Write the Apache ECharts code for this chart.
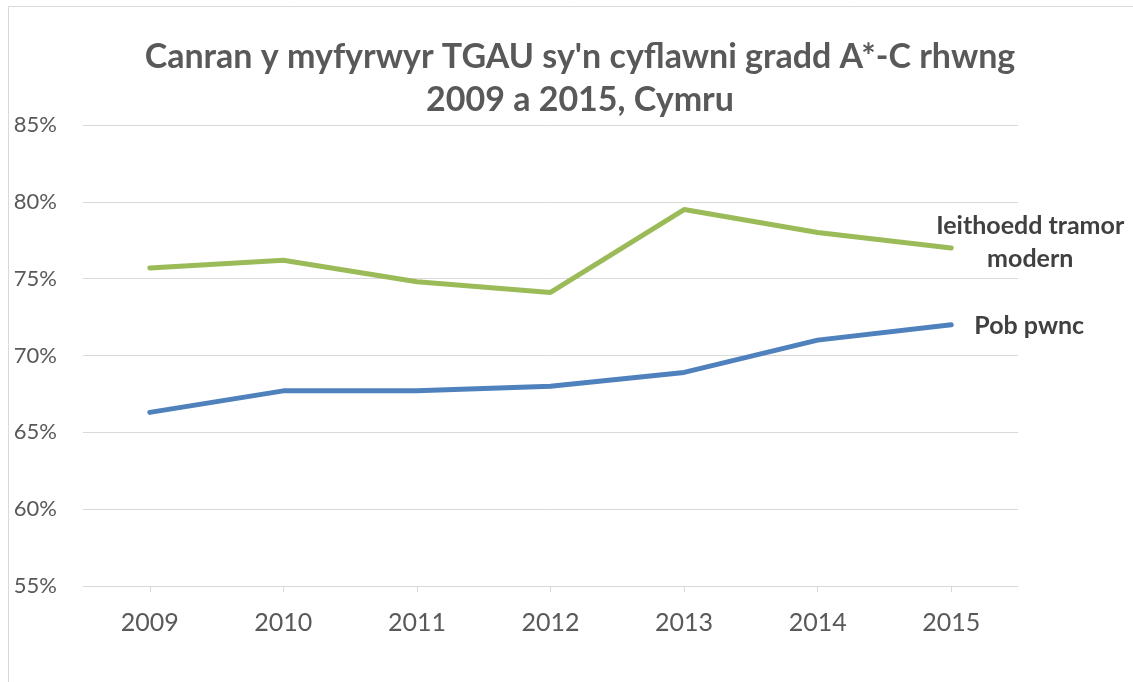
<!DOCTYPE html>
<html>
<head>
<meta charset="utf-8">
<script src="https://cdn.jsdelivr.net/npm/echarts@6/dist/echarts.min.js"></script>
<style>
  html, body { margin: 0; padding: 0; background: #fff; }
  #chart { width: 1133px; height: 682px; }
</style>
</head>
<body>
<div id="chart"></div>
<script>
// blynyddoedd a chanrannau (darllen o'r llun)
const years = ['2009', '2010', '2011', '2012', '2013', '2014', '2015']
const ieithoedd = [75.7, 76.2, 74.8, 74.1, 79.5, 78.0, 77.0]
const pobPwnc = [66.3, 67.7, 67.7, 68.0, 68.9, 71.0, 72.0]

const font = 'Lato, "Open Sans", sans-serif'
const gridColor = '#d9d9d9'

const chart = echarts.init(document.getElementById('chart'))

chart.setOption({
  animation: false,
  backgroundColor: '#fff',
  textStyle: { fontFamily: font },
  title: {
    text: "Canran y myfyrwyr TGAU sy'n cyflawni gradd A*-C rhwng\n2009 a 2015, Cymru",
    left: 575,
    textAlign: 'center',
    top: 31,
    textStyle: {
      fontFamily: font,
      fontSize: 34,
      fontWeight: 'bold',
      color: '#595959',
      lineHeight: 43
    }
  },
  graphic: [{
    type: 'rect',
    shape: { x: 8.5, y: 6.5, width: 1140, height: 700 },
    style: { fill: 'none', stroke: gridColor, lineWidth: 1 },
    silent: true
  }],
  grid: { left: 83, right: 115, top: 125, bottom: 96 },
  xAxis: {
    type: 'category',
    data: years,
    boundaryGap: true,
    axisLine: { lineStyle: { color: gridColor, width: 1 } },
    axisTick: { show: true, alignWithLabel: true, length: 6, lineStyle: { color: gridColor } },
    axisLabel: { color: '#595959', fontSize: 25, margin: 24, fontFamily: font }
  },
  yAxis: {
    type: 'value',
    min: 55,
    max: 85,
    interval: 5,
    axisLine: { show: false },
    axisTick: { show: false },
    splitLine: { lineStyle: { color: gridColor, width: 1 } },
    axisLabel: {
      color: '#595959',
      fontSize: 22,
      margin: 26,
      fontFamily: font,
      formatter: v => v + '%'
    }
  },
  series: [
    {
      name: 'Ieithoedd tramor\nmodern',
      type: 'line',
      data: ieithoedd,
      showSymbol: false,
      symbol: 'none',
      lineStyle: { color: '#9BBB59', width: 5, cap: 'round', join: 'round' },
      endLabel: {
        show: true,
        formatter: '{a}',
        align: 'center',
        offset: [71, -5],
        fontSize: 25,
        fontWeight: 'bold',
        color: '#404040',
        lineHeight: 33,
        fontFamily: font
      }
    },
    {
      name: 'Pob pwnc',
      type: 'line',
      data: pobPwnc,
      showSymbol: false,
      symbol: 'none',
      lineStyle: { color: '#4F81BD', width: 5, cap: 'round', join: 'round' },
      endLabel: {
        show: true,
        formatter: '{a}',
        align: 'center',
        offset: [70, 1],
        fontSize: 25,
        fontWeight: 'bold',
        color: '#404040',
        fontFamily: font
      }
    }
  ]
})
</script>
</body>
</html>
